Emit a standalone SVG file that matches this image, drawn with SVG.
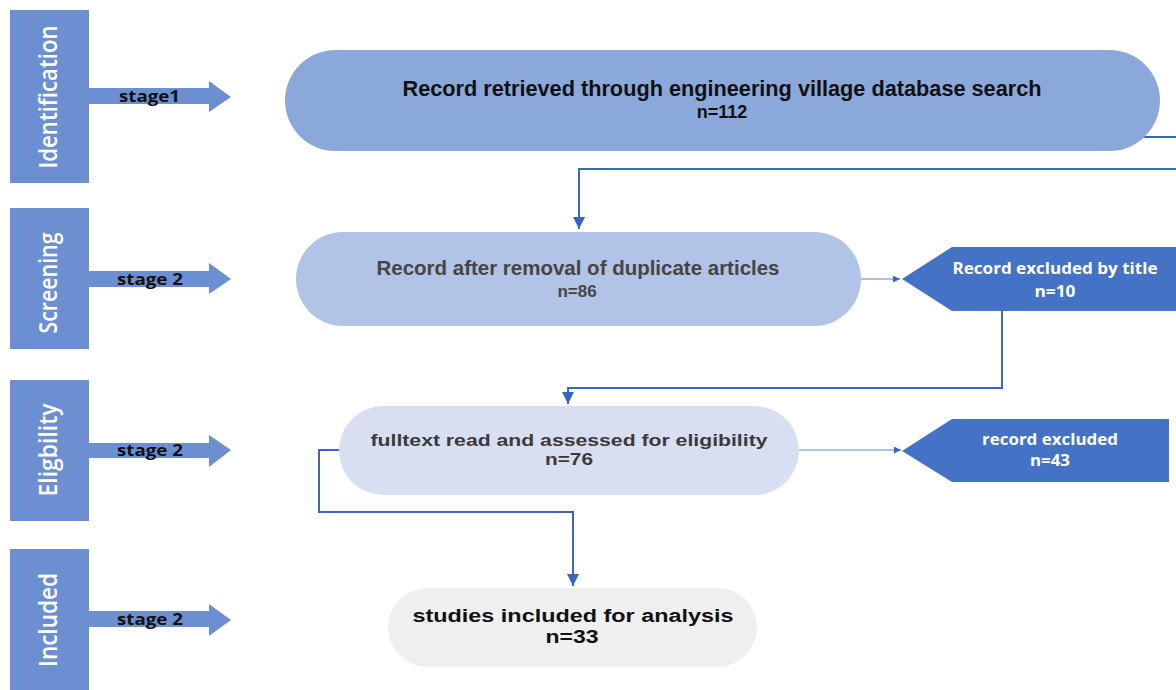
<svg xmlns="http://www.w3.org/2000/svg" width="1176" height="690" viewBox="0 0 1176 690">
  <defs>
    <style>
      .stage { fill: #6B8FD1; }
      .stage-label { font-family: "Open Sans", "DejaVu Sans", sans-serif; font-size: 25px; font-weight: 600; fill: #FFFFFF; text-anchor: middle; }
      .step { font-family: "Open Sans", "DejaVu Sans", sans-serif; font-size: 16px; font-weight: 700; fill: #111111; }
      .t-main { font-family: "Liberation Sans", Arial, sans-serif; text-anchor: middle; }
      .excl { fill: #4472C4; }
      .excl-text { font-family: "Open Sans", "DejaVu Sans", sans-serif; font-size: 16px; font-weight: 700; fill: #FFFFFF; text-anchor: middle; }
      .flow { fill: none; stroke: #3A66C0; stroke-width: 2; }
      .flow-thin { fill: none; stroke: #5B86D0; stroke-width: 1; }
    </style>
    <marker id="arrow" viewBox="0 0 10 10" refX="10" refY="5" markerWidth="6" markerHeight="6" markerUnits="strokeWidth" orient="auto">
      <path d="M0,0 L10,5 L0,10 Z" fill="#3A66C0"/>
    </marker>
    <marker id="arrow-thin" viewBox="0 0 10 10" refX="10" refY="5" markerWidth="8" markerHeight="7" markerUnits="strokeWidth" orient="auto">
      <path d="M0,0 L10,5 L0,10 Z" fill="#3A66C0"/>
    </marker>
  </defs>

  <rect width="1176" height="690" fill="#FFFFFF"/>

  <!-- Stage column -->
  <g id="stage-identification">
    <rect class="stage" x="10" y="10" width="79" height="173"/>
    <polygon class="stage" points="89,88 209,88 209,81 231,97 209,112 209,104 89,104"/>
    <text class="stage-label" transform="translate(57,97) rotate(-90)" textLength="143" lengthAdjust="spacingAndGlyphs">Identification</text>
    <text class="step" x="119" y="102" textLength="61" lengthAdjust="spacingAndGlyphs">stage1</text>
  </g>
  <g id="stage-screening">
    <rect class="stage" x="10" y="208" width="79" height="141"/>
    <polygon class="stage" points="89,271 209,271 209,263 231,279 209,294 209,287 89,287"/>
    <text class="stage-label" transform="translate(57,283) rotate(-90)" textLength="101" lengthAdjust="spacingAndGlyphs">Screening</text>
    <text class="step" x="117" y="285" textLength="66" lengthAdjust="spacingAndGlyphs">stage 2</text>
  </g>
  <g id="stage-eligibility">
    <rect class="stage" x="10" y="380" width="79" height="141"/>
    <polygon class="stage" points="89,443 209,443 209,435 231,450 209,467 209,458 89,458"/>
    <text class="stage-label" transform="translate(57,450) rotate(-90)" textLength="93" lengthAdjust="spacingAndGlyphs">Eligbility</text>
    <text class="step" x="117" y="456" textLength="66" lengthAdjust="spacingAndGlyphs">stage 2</text>
  </g>
  <g id="stage-included">
    <rect class="stage" x="10" y="549" width="79" height="145"/>
    <polygon class="stage" points="89,611 209,611 209,604 231,620 209,636 209,627 89,627"/>
    <text class="stage-label" transform="translate(57,620) rotate(-90)" textLength="94" lengthAdjust="spacingAndGlyphs">Included</text>
    <text class="step" x="117" y="625" textLength="66" lengthAdjust="spacingAndGlyphs">stage 2</text>
  </g>

  <!-- Connectors -->
  <g id="connectors">
    <path class="flow" d="M1143,137 H1176"/>
    <path class="flow" d="M1176,169 H579 V229" marker-end="url(#arrow)"/>
    <path class="flow-thin" d="M861,279 H900" marker-end="url(#arrow-thin)"/>
    <path class="flow" d="M1002,311 V388 H568 V404" marker-end="url(#arrow)"/>
    <path class="flow-thin" d="M799,450 H901" marker-end="url(#arrow-thin)"/>
    <path class="flow" d="M339,450 H319 V512 H573 V586" marker-end="url(#arrow)"/>
  </g>

  <!-- Flow nodes -->
  <g id="node-retrieved">
    <rect x="285" y="50" width="875" height="101" rx="50.5" fill="#8AA8D9"/>
    <text class="t-main" x="722" y="96" font-size="22" font-weight="700" fill="#111111" textLength="639" lengthAdjust="spacingAndGlyphs">Record retrieved through engineering village database search</text>
    <text class="t-main" x="722" y="118" font-size="18" font-weight="700" fill="#111111">n=112</text>
  </g>
  <g id="node-deduplicated">
    <rect x="296" y="232" width="565" height="94" rx="47" fill="#B1C3E6"/>
    <text class="t-main" x="578" y="275" font-size="21" font-weight="700" fill="#454545" textLength="403" lengthAdjust="spacingAndGlyphs">Record after removal of duplicate articles</text>
    <text class="t-main" x="577" y="297" font-size="17" font-weight="700" fill="#454545">n=86</text>
  </g>
  <g id="node-fulltext">
    <rect x="339" y="406" width="460" height="89" rx="44.5" fill="#D7DFF1"/>
    <text class="t-main" x="569" y="446" font-size="16" font-weight="700" fill="#3A3A3A" textLength="397" lengthAdjust="spacingAndGlyphs">fulltext read and assessed for eligibility</text>
    <text class="t-main" x="569" y="465" font-size="17" font-weight="700" fill="#3A3A3A" textLength="48" lengthAdjust="spacingAndGlyphs">n=76</text>
  </g>
  <g id="node-included">
    <rect x="388" y="588" width="369" height="79" rx="39.5" fill="#EFEFEF"/>
    <text class="t-main" x="573" y="622" font-size="18" font-weight="700" fill="#111111" textLength="321" lengthAdjust="spacingAndGlyphs">studies included for analysis</text>
    <text class="t-main" x="572" y="643" font-size="18" font-weight="700" fill="#111111" textLength="53" lengthAdjust="spacingAndGlyphs">n=33</text>
  </g>
  <g id="node-excluded-title">
    <polygon class="excl" points="902,279 952,247 1176,247 1176,311 952,311"/>
    <text class="excl-text" x="1055" y="274" textLength="205" lengthAdjust="spacingAndGlyphs">Record excluded by title</text>
    <text class="excl-text" x="1055" y="297" font-size="17" textLength="41" lengthAdjust="spacingAndGlyphs">n=10</text>
  </g>
  <g id="node-excluded">
    <polygon class="excl" points="902,451 952,419 1169,419 1169,482 952,482"/>
    <text class="excl-text" x="1050" y="445" textLength="136" lengthAdjust="spacingAndGlyphs">record excluded</text>
    <text class="excl-text" x="1050" y="466" font-size="17" textLength="40" lengthAdjust="spacingAndGlyphs">n=43</text>
  </g>
</svg>
